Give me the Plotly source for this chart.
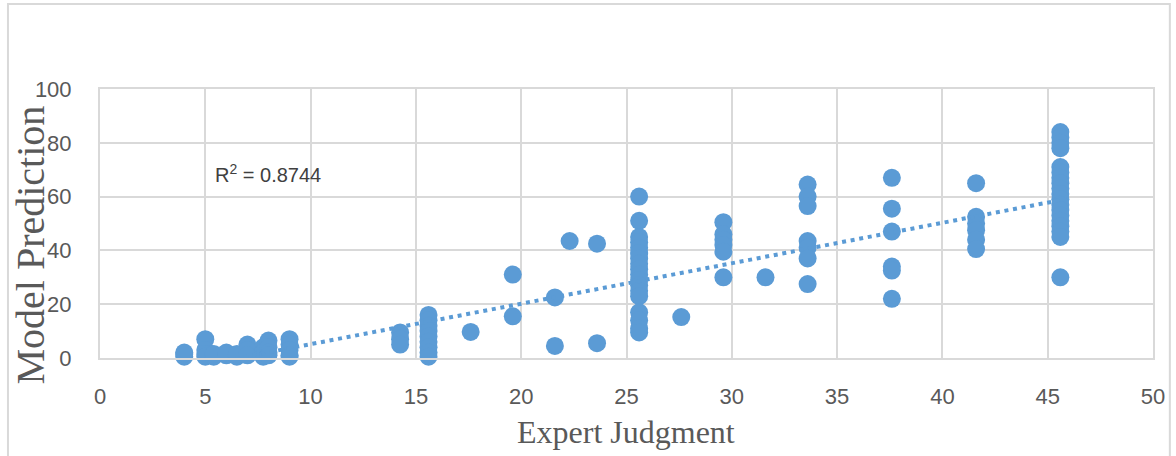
import plotly.graph_objects as go

# ---- data ----
cluster_x = [4, 5, 5.4, 6, 6.5, 7, 7.75, 8, 9, 14.25, 15.6, 17.6, 19.6, 21.6, 22.3,
             23.6, 25.6, 27.6, 29.6, 31.6, 33.6, 37.6, 41.6, 45.6]
cluster_y = [
    [0.5, 1.5, 2],
    [7, 3, 1.5, 0.5],
    [0.5, 1.5],
    [1, 2],
    [0.5, 1.5],
    [5, 3, 1],
    [4, 2, 0.5],
    [6.5, 4, 2, 1],
    [7, 5, 3, 1, 0.5],
    [9.5, 7, 5],
    [16, 14, 12, 10, 8, 6, 4, 2, 0.5],
    [9.7],
    [31, 15.5],
    [22.5, 4.5],
    [43.5],
    [42.5, 5.5],
    [60, 51, 45, 43, 41, 39, 37, 35, 33, 31, 29, 27, 25, 23, 17, 14, 11, 9.5],
    [15.2],
    [50.5, 46, 44, 42, 39.5, 30],
    [30],
    [64.5, 60, 56.5, 43.5, 41, 37, 27.5],
    [67, 55.5, 47, 34, 32.5, 22],
    [65, 52.5, 50, 47.5, 44, 40.5],
    [84, 82, 80, 78, 71, 69, 67, 65, 63, 61, 59, 57, 55, 53, 51, 49, 47, 45, 30],
]
trend_slope = 1.504
trend_intercept = -9.9
r_squared_text = "R<sup>2</sup> = 0.8744"
x_ticks = [0, 5, 10, 15, 20, 25, 30, 35, 40, 45, 50]
y_ticks = [0, 20, 40, 60, 80, 100]
x_title = "Expert Judgment"
y_title = "Model Prediction"

expert_x = [x for x, ys in zip(cluster_x, cluster_y) for _ in ys]
model_y = [y for ys in cluster_y for y in ys]

x_lo, x_hi = min(expert_x), max(expert_x)
trend_x = [x_lo, x_hi]
trend_y = [trend_slope * v + trend_intercept for v in trend_x]

BLUE = "#5B9BD5"
GRID = "#D9D9D9"
TICK_FONT = dict(family="Liberation Sans Narrow, Arial Narrow, Liberation Sans, Arial",
                 size=22, color="#595959")

fig = go.Figure()
fig.add_trace(go.Scatter(
    x=expert_x, y=model_y, mode="markers",
    marker=dict(color=BLUE, size=18, line=dict(width=0)),
    cliponaxis=False,
    showlegend=False, hoverinfo="x+y",
))
fig.add_trace(go.Scatter(
    x=trend_x, y=trend_y, mode="lines",
    line=dict(color=BLUE, width=4, dash="4px,4.7px"),
    showlegend=False, hoverinfo="skip",
))

fig.update_layout(
    width=1176, height=456,
    margin=dict(l=100, r=23, t=89, b=98),
    paper_bgcolor="white", plot_bgcolor="white",
    xaxis=dict(range=[0, 50], tickvals=x_ticks, showgrid=True, gridcolor=GRID,
               gridwidth=2, zeroline=False, showline=True, linecolor=GRID,
               linewidth=2, mirror=True, ticks="", tickfont=TICK_FONT,
               ticklabelstandoff=18, automargin=False, fixedrange=True),
    yaxis=dict(range=[0, 100], tickvals=y_ticks, showgrid=True, gridcolor=GRID,
               gridwidth=2, zeroline=False, showline=True, linecolor=GRID,
               linewidth=2, mirror=True, ticks="", tickfont=TICK_FONT,
               ticklabelstandoff=22, automargin=False, fixedrange=True),
    annotations=[
        dict(text=r_squared_text, x=5.35, y=68.5, xref="x", yref="y",
             xanchor="left", yanchor="middle", showarrow=False,
             font=dict(family=TICK_FONT["family"], size=20, color="#404040")),
        dict(text=x_title, x=0.4995, y=-0.275, xref="paper", yref="paper",
             xanchor="center", yanchor="middle", showarrow=False,
             font=dict(family="Liberation Serif, Times New Roman, serif",
                       size=32, color="#595959")),
        dict(text=y_title, x=-0.066, y=0.42, xref="paper", yref="paper",
             xanchor="center", yanchor="middle", showarrow=False, textangle=-90,
             font=dict(family="Liberation Serif, Times New Roman, serif",
                       size=40, color="#595959")),
    ],
    shapes=[dict(type="rect", xref="paper", yref="paper",
                 x0=-0.0874, x1=1.016, y0=-0.38, y1=1.316,
                 line=dict(color="#D9D9D9", width=2), fillcolor="rgba(0,0,0,0)",
                 layer="below")],
)

fig.write_html("out.html")
